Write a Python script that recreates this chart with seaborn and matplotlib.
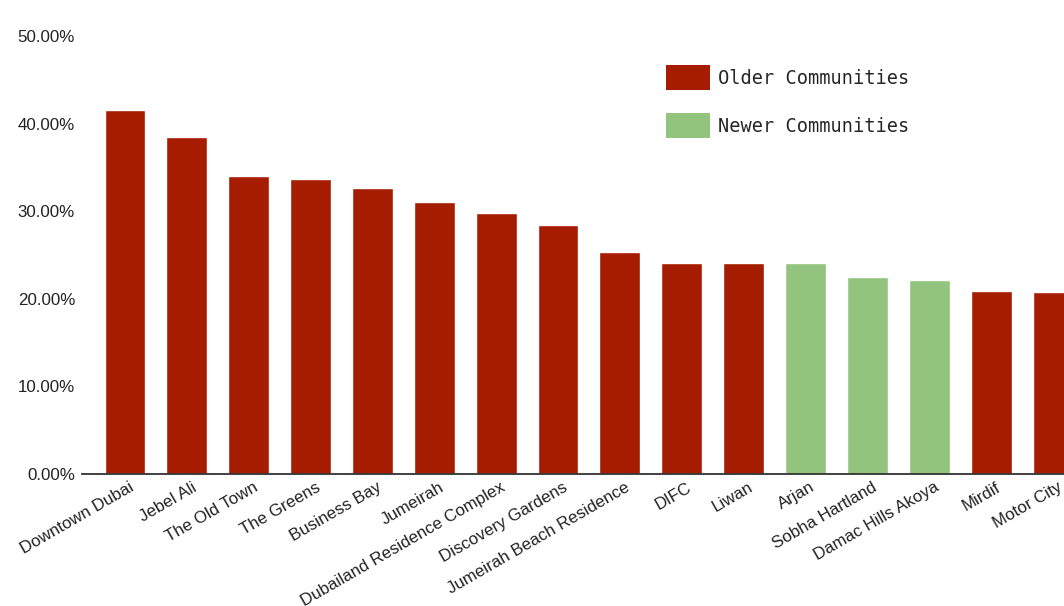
import matplotlib
matplotlib.use("Agg")
import matplotlib.pyplot as plt
from matplotlib.patches import Patch
import matplotlib.transforms as mtransforms
import seaborn as sns
import pandas as pd

communities = ["Downtown Dubai", "Jebel Ali", "The Old Town", "The Greens", "Business Bay",
               "Jumeirah", "Dubailand Residence Complex", "Discovery Gardens",
               "Jumeirah Beach Residence", "DIFC", "Liwan", "Arjan", "Sobha Hartland",
               "Damac Hills Akoya", "Mirdif", "Motor City"]
share = [41.5, 38.5, 34.0, 33.7, 32.7, 31.1, 29.8, 28.4, 25.3, 24.1, 24.1, 24.1, 22.5, 22.1, 20.9, 20.8]
group = ["Older Communities"] * 11 + ["Newer Communities"] * 3 + ["Older Communities"] * 2
legend_labels = ["Older Communities", "Newer Communities"]
yticks = [0, 10, 20, 30, 40, 50]

RED = "#a61c00"
GREEN = "#93c47d"
palette = {"Older Communities": RED, "Newer Communities": GREEN}

df = pd.DataFrame({"community": communities, "share": share, "group": group})

sns.set_style("white")
plt.rcParams["font.family"] = ["Liberation Sans", "DejaVu Sans"]

W, H = 1064, 606
fig = plt.figure(figsize=(W / 100, H / 100), dpi=100)
step = 61.87
left_px = 82
x0 = -0.5 - (125 - 31 - left_px) / step
x1 = 15.69
ax_w_px = (x1 - x0) * step
ax = fig.add_axes([left_px / W, (H - 474) / H, ax_w_px / W, (474 - 36) / H])

sns.barplot(data=df, x="community", y="share", hue="group", palette=palette,
            dodge=False, width=0.66, legend=False, ax=ax, saturation=1)

ax.set_xlim(x0, x1)
ax.set_ylim(0, 50)
ax.set_yticks(yticks)
ax.set_yticklabels([f"{v:.2f}%" for v in yticks], fontsize=12.2, color="#222222")
ax.tick_params(axis="y", length=0, pad=5)
ax.tick_params(axis="x", length=0, pad=4)
ax.set_xlabel("")
ax.set_ylabel("")
for s in ["top", "right", "left"]:
    ax.spines[s].set_visible(False)
ax.spines["bottom"].set_color("#333333")
ax.spines["bottom"].set_linewidth(1.3)
ax.grid(False)

offset = mtransforms.ScaledTranslation(4.5 / 100, 0, fig.dpi_scale_trans)
for lab in ax.get_xticklabels():
    lab.set_rotation(30)
    lab.set_ha("right")
    lab.set_va("top")
    lab.set_rotation_mode("anchor")
    lab.set_fontsize(12.2)
    lab.set_color("#222222")
    lab.set_transform(lab.get_transform() + offset)

handles = [Patch(facecolor=palette[l], edgecolor="none") for l in legend_labels]
fig.legend(handles, legend_labels, loc="upper left", bbox_to_anchor=(666 / W, 1 - 65 / H),
           frameon=False, prop={"family": "DejaVu Sans Mono", "size": 13.4},
           handlelength=2.37, handleheight=1.72, handletextpad=0.43, labelspacing=1.22,
           borderaxespad=0, borderpad=0)

fig.savefig("out.png", dpi=100)
